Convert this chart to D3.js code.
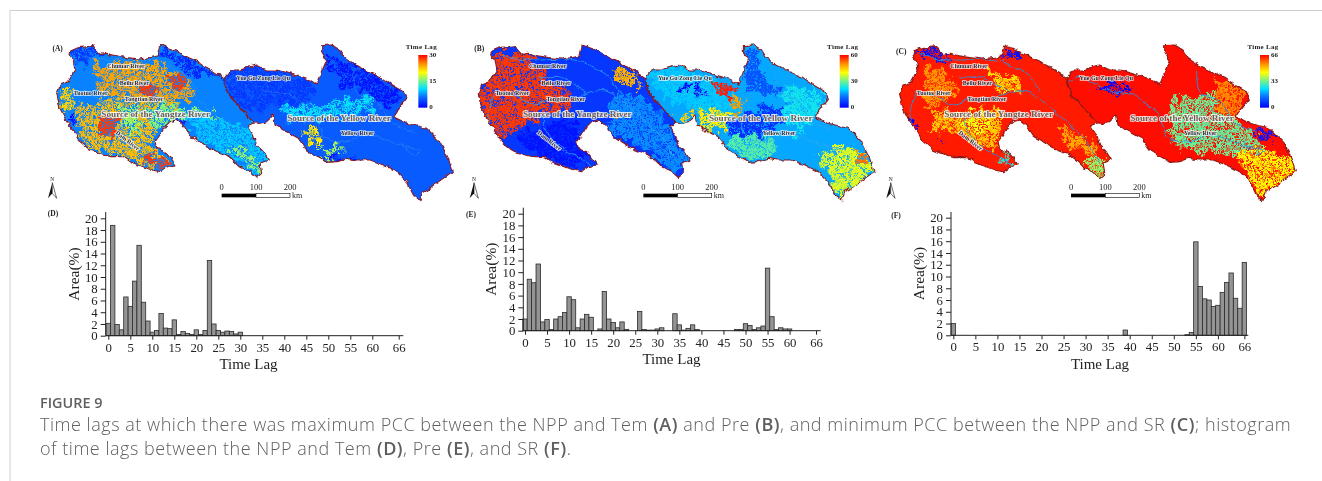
<!DOCTYPE html>
<html><head><meta charset="utf-8">
<script src="https://cdn.jsdelivr.net/npm/d3@7/dist/d3.min.js"></script>
<style>
html,body{margin:0;padding:0;background:#fff;overflow:hidden}
svg{display:block}
.ax text{font-family:"Liberation Serif",serif;fill:#222}
.ax path,.ax line{stroke:#222;stroke-width:1;fill:none}
</style></head><body>
<svg id="c" width="1322" height="481"></svg>
<script>
// ---------- histogram data: area (%) per time lag ----------
const lagsD = d3.range(0,31);
const areaD = [2.1,18.8,1.9,1.0,6.6,5.0,9.3,15.4,5.7,2.5,0.6,0.9,3.8,1.3,1.2,2.7,0.2,0.7,0.4,0.2,1.0,0.2,0.9,12.8,2.0,0.9,0.6,0.8,0.7,0.3,0.6];
const lagsE = [0,1,2,3,4,5,6,7,8,9,10,11,12,13,14,15,17,18,19,20,21,22,23,26,27,28,29,30,31,34,35,36,37,38,39,48,49,50,51,52,53,54,55,56,57,58,59,60];
const areaE = [2.0,8.8,8.2,11.4,1.5,1.9,0.2,2.0,2.4,3.1,5.8,5.3,0.5,2.0,2.8,2.3,0.3,6.7,2.0,1.4,0.5,1.5,0.2,3.3,0.2,0.1,0.1,0.3,0.5,2.9,1.0,0.1,0.4,1.0,0.2,0.2,0.2,1.2,0.9,0.2,0.5,0.8,10.7,2.4,0.2,0.5,0.3,0.3];
const lagsF = [0,39,53,54,55,56,57,58,59,60,61,62,63,64,65,66];
const areaF = [2.0,0.9,0.1,0.5,15.9,8.3,6.2,6.0,4.9,5.1,7.3,9.0,10.6,6.3,4.6,12.4];
const xTickValues = [0,5,10,15,20,25,30,35,40,45,50,55,60,66];
const yTickValues = [0,2,4,6,8,10,12,14,16,18,20];

// ---------- map geometry (map units) ----------
const yangtzeOutline = [[92,48],[105,42],[118,38],[140,35],[162,32],[168,45],[180,58],[200,55],[225,62],[260,68],[300,72],[330,68],[355,62],[362,30],[375,35],[395,42],[415,52],[430,60],[450,70],[470,78],[490,92],[515,105],[535,118],[552,128],[555,150],[565,180],[590,205],[620,240],[642,264],[622,272],[640,300],[650,330],[670,350],[685,375],[660,385],[665,415],[650,428],[630,410],[600,395],[580,375],[560,360],[520,345],[480,320],[450,300],[430,270],[410,255],[390,260],[375,275],[360,300],[345,320],[350,340],[375,350],[395,375],[405,390],[380,395],[360,410],[335,405],[310,395],[270,380],[250,365],[215,365],[190,360],[150,345],[120,320],[100,285],[80,260],[60,220],[50,175],[60,150],[85,140],[105,105],[100,75],[90,60]];
const yellowOutline = [[552,128],[570,105],[600,105],[630,95],[650,90],[680,105],[710,105],[745,115],[780,125],[810,135],[830,150],[845,110],[860,75],[845,50],[845,32],[875,30],[900,45],[915,70],[945,90],[985,110],[1020,125],[1055,150],[1090,170],[1100,190],[1070,230],[1060,245],[1100,265],[1160,280],[1200,320],[1225,370],[1237,410],[1210,430],[1175,455],[1150,470],[1140,497],[1120,480],[1100,440],[1070,410],[1030,390],[990,375],[950,375],[920,370],[890,380],[860,382],[830,365],[800,345],[775,310],[730,285],[705,270],[700,240],[680,260],[660,265],[642,264],[620,240],[590,205],[565,180],[555,150]];
const riverLines = [
 [[101,170],[161,185],[221,210],[251,195],[331,190],[391,170],[441,170],[491,210],[551,260],[611,320],[641,370],[651,385]],
 [[231,130],[291,125],[341,150],[376,170]],
 [[111,55],[151,70],[201,75],[341,75],[381,90],[441,125],[471,170]],
 [[246,230],[249,280],[301,340],[341,360],[401,400]],
 [[101,170],[81,230],[86,265]],
 [[556,140],[591,125],[641,150],[691,170],[751,180],[791,210],[826,235],[841,280],[856,310],[921,320],[981,300],[1051,320],[1111,340],[1146,345],[1121,360],[1081,320]],
 [[941,110],[951,170],[1011,200],[1051,260],[1121,290]]
];
const smallNames = ["Chumar River","Beilu River","Tuotuo River","Tongtian River","Dam River","Yue Gu Zong Lie Qu","Yellow River"];
const smallPos = [[258,93,0],[283,144,0],[152,174,0],[312,191,0],[263,317,38],[670,128,0],[952,293,0]];
const bigNames = ["Source of the Yangtze River","Source of the Yellow River"];
const bigPos = [[347,238],[897,250]];

// lag-patches per panel: each has a polygon and a lag value
const patchesA = [
 {v:24,p:[[170,90],[300,75],[380,95],[445,130],[480,185],[400,200],[330,190],[240,190],[170,160]]},
 {v:28,p:[[290,150],[345,145],[355,185],[300,190]]},
 {v:28,p:[[380,120],[435,120],[445,155],[400,155]]},
 {v:23,p:[[100,225],[180,190],[330,190],[420,210],[405,250],[350,280],[340,340],[385,380],[330,400],[260,375],[190,355],[125,320]]},
 {v:28,p:[[165,245],[225,245],[235,295],[180,305]]},
 {v:28,p:[[290,350],[350,360],[385,385],[340,400]]},
 {v:22,p:[[55,160],[105,165],[95,230],[70,225]]},
 {v:16,p:[[330,210],[530,230],[515,258],[430,250],[370,285],[330,275]]},
 {v:17,p:[[240,205],[295,205],[305,300],[250,285]]},
 {v:2,p:[[360,28],[480,85],[565,130],[470,125],[375,70]]},
 {v:3,p:[[85,42],[168,28],[200,60],[110,85]]},
 {v:0,p:[[80,250],[105,250],[100,278]]},
 {v:10,p:[[440,235],[645,270],[690,375],[655,430],[580,375],[465,310]]},
 {v:16,p:[[560,325],[640,360],[665,415],[620,395]]},
 {v:1,p:[[395,253],[432,255],[440,288],[380,278]]},
 {v:3,p:[[552,128],[650,88],[810,133],[832,190],[620,230],[575,180]]},
 {v:1,p:[[855,55],[1000,118],[1100,180],[1040,228],[980,170],[900,150]]},
 {v:11,p:[[720,215],[1000,185],[1005,232],[850,255],[740,262]]},
 {v:21,p:[[790,285],[832,278],[842,322],[800,322]]},
 {v:17,p:[[830,328],[905,338],[902,370],[850,375]]},
 {v:1,p:[[850,365],[950,375],[890,392]]}
];
const patchesB = [
 {v:56,p:[[95,52],[212,58],[252,130],[345,190],[312,232],[232,242],[170,282],[110,302],[82,270],[45,170],[95,125]]},
 {v:47,p:[[445,108],[502,98],[545,155],[480,150]]},
 {v:15,p:[[455,178],[552,188],[632,290],[685,382],[632,412],[570,352],[435,292]]},
 {v:52,p:[[435,238],[482,238],[470,262]]},
 {v:2,p:[[160,300],[330,250],[385,350],[352,402],[230,372]]},
 {v:20,p:[[552,118],[650,92],[752,128],[828,180],[812,242],[700,222],[608,192]]},
 {v:0,p:[[655,148],[690,150],[685,170],[660,165]]},
 {v:0,p:[[705,145],[725,150],[725,175],[705,175]]},
 {v:58,p:[[752,142],[812,148],[822,188],[770,178]]},
 {v:48,p:[[808,188],[842,188],[842,232],[815,238]]},
 {v:42,p:[[708,222],[812,238],[792,292],[718,282]]},
 {v:44,p:[[648,238],[692,228],[682,262],[658,267]]},
 {v:5,p:[[798,270],[912,208],[978,213],[972,262],[912,292],[882,352],[808,312]]},
 {v:28,p:[[798,308],[892,298],[952,340],[932,362],[860,385],[818,352]]},
 {v:9,p:[[845,30],[892,48],[892,100],[962,182],[860,172],[848,120]]},
 {v:23,p:[[968,148],[1095,178],[1072,242],[1012,302],[968,252]]},
 {v:38,p:[[1068,358],[1152,328],[1225,368],[1238,412],[1140,500],[1098,422]]},
 {v:52,p:[[1168,338],[1218,368],[1192,392]]}
];
const patchesC = [
 {v:54,p:[[118,98],[183,98],[223,172],[173,212],[128,232]]},
 {v:47,p:[[318,98],[393,128],[415,172],[338,172]]},
 {v:49,p:[[158,228],[363,218],[353,282],[338,342],[290,342],[220,292],[138,292]]},
 {v:43,p:[[229,228],[323,233],[302,302],[248,282]]},
 {v:52,p:[[518,268],[612,318],[642,352],[568,342]]},
 {v:36,p:[[609,358],[685,378],[663,432],[609,412]]},
 {v:28,p:[[359,348],[405,397],[349,382]]},
 {v:2,p:[[98,46],[163,36],[203,77],[119,67]]},
 {v:2,p:[[359,30],[393,43],[423,77],[364,77]]},
 {v:0,p:[[79,248],[103,253],[101,277],[79,272]]},
 {v:0,p:[[164,313],[188,313],[182,327]]},
 {v:33,p:[[859,188],[993,178],[1053,258],[1123,298],[1163,382],[1049,362],[949,352],[859,322]]},
 {v:32,p:[[880,210],[990,200],[1040,270],[1110,320],[1040,345],[950,335],[880,310]]},
 {v:45,p:[[1049,348],[1163,348],[1240,368],[1240,412],[1141,498],[1089,422]]},
 {v:2,p:[[1109,283],[1193,283],[1213,317],[1129,312]]},
 {v:55,p:[[999,118],[1093,168],[1053,252],[999,222]]},
 {v:0,p:[[654,146],[698,148],[693,174],[654,167]]},
 {v:0,p:[[699,148],[738,143],[738,177],[697,180]]}
];
const baseA = [7,5], baseB = [6,17], baseC = [64,65];
const lagMaxA = 30, lagMaxB = 60, lagMaxC = 66;

// ---------- layout ----------
const svg = d3.select("#c");
const defs = svg.append("defs");
const serif = '"Liberation Serif",serif';

const colorStops = [0,.22,.36,.5,.67,.83,1];
const colorVals = ["#0000ff","#0a78ff","#00e0ff","#70f090","#ffff00","#ff9000","#ff0000"];
const frac = d3.scaleLinear().domain(colorStops).range(colorVals).interpolate(d3.interpolateRgb).clamp(true);

const grad = defs.append("linearGradient").attr("id","lagGrad").attr("x1",0).attr("x2",0).attr("y1",1).attr("y2",0);
colorStops.forEach((s,i)=>grad.append("stop").attr("offset",s).attr("stop-color",colorVals[i]));

function fullFilter(id){
  return defs.append("filter").attr("id",id).attr("filterUnits","userSpaceOnUse")
    .attr("x",0).attr("y",0).attr("width",1322).attr("height",481).attr("color-interpolation-filters","sRGB");
}
// patches dissolve softly into speckles and get rough edges
function dissolve(id,seed,thresh){
  const f = fullFilter(id), k = 5;
  f.append("feTurbulence").attr("type","fractalNoise").attr("baseFrequency",.42).attr("numOctaves",2).attr("seed",seed).attr("result","fine");
  f.append("feColorMatrix").attr("in","fine").attr("type","matrix").attr("values",
    `0 0 0 0 0 0 0 0 0 0 0 0 0 0 0 ${k} 0 0 0 ${-k*thresh}`).attr("result","mask");
  f.append("feComposite").attr("in","SourceGraphic").attr("in2","mask").attr("operator","in").attr("result","s");
  f.append("feTurbulence").attr("type","fractalNoise").attr("baseFrequency",.12).attr("numOctaves",3).attr("seed",seed+4).attr("result","coarse");
  f.append("feDisplacementMap").attr("in","s").attr("in2","coarse").attr("scale",20).attr("xChannelSelector","R").attr("yChannelSelector","G");
  f.append("feGaussianBlur").attr("stdDeviation",.55);
}
dissolve("rA",3,.34);dissolve("rB",8,.3);dissolve("rC",13,.33);
// jagged outline of whole basin
const jag = fullFilter("jag");
jag.append("feTurbulence").attr("type","fractalNoise").attr("baseFrequency",.16).attr("numOctaves",2).attr("seed",2).attr("result","n");
jag.append("feDisplacementMap").attr("in","SourceGraphic").attr("in2","n").attr("scale",5).attr("xChannelSelector","R").attr("yChannelSelector","G");
jag.append("feGaussianBlur").attr("stdDeviation",.25);
const soft = fullFilter("soft");
soft.append("feGaussianBlur").attr("stdDeviation",.38);
const softT = fullFilter("softT");
softT.append("feGaussianBlur").attr("stdDeviation",.3);

function drawMap(cfg){
  const x = d3.scaleLinear().domain([0,1260]).range([cfg.ox,cfg.ox+420]);
  const y = d3.scaleLinear().domain([0,510]).range([cfg.oy,cfg.oy+170]);
  const line = d3.line().x(d=>x(d[0])).y(d=>y(d[1]));
  const lineC = d3.line().x(d=>x(d[0])).y(d=>y(d[1])).curve(d3.curveCatmullRom);
  const color = v=>frac(v/cfg.max);
  const g = svg.append("g");
  const land = g.append("g").attr("filter","url(#jag)");
  [yangtzeOutline,yellowOutline].forEach((o,i)=>{
    const cid = `clip${cfg.name}${i}`;
    defs.append("clipPath").attr("id",cid).append("path").attr("d",line(o)+"Z");
    const cg = land.append("g").attr("clip-path",`url(#${cid})`);
    cg.append("rect").attr("x",x(0)).attr("y",y(0)).attr("width",420).attr("height",170).attr("fill",color(cfg.base[i]));
    const inner = cg.append("g").attr("filter",`url(#r${cfg.name})`);
    inner.selectAll("path").data(cfg.patches).join("path").attr("d",d=>line(d.p)+"Z").attr("fill",d=>color(d.v));
    cg.selectAll("path.r").data(riverLines).join("path").attr("class","r").attr("d",lineC)
      .attr("fill","none").attr("stroke",cfg.river).attr("stroke-width",.9).attr("opacity",cfg.rOp);
  });
  [yangtzeOutline,yellowOutline].forEach(o=>{
    land.append("path").attr("d",line(o)+"Z").attr("fill","none").attr("stroke",cfg.edge).attr("stroke-width",1.1).attr("stroke-linejoin","round");
  });
  const labels = g.append("g").attr("filter","url(#softT)");
  labels.selectAll("text.s").data(smallNames).join("text").attr("class","s")
    .attr("transform",(d,i)=>`translate(${x(smallPos[i][0])},${y(smallPos[i][1])}) rotate(${smallPos[i][2]})`)
    .attr("text-anchor","middle").attr("dy","0.33em")
    .attr("font-family",serif).attr("font-weight","bold").attr("font-size",6)
    .attr("fill","#2a2a35").attr("stroke","#fff").attr("stroke-width",1.6).attr("paint-order","stroke").attr("stroke-opacity",.8)
    .text(d=>d);
  labels.selectAll("text.b").data(bigNames).join("text").attr("class","b")
    .attr("x",(d,i)=>x(bigPos[i][0])).attr("y",(d,i)=>y(bigPos[i][1])).attr("dy","0.33em")
    .attr("text-anchor","middle")
    .attr("font-family",serif).attr("font-weight","bold").attr("font-size",9.2)
    .attr("fill","#6b5f58").attr("stroke","#fff").attr("stroke-width",1.8).attr("paint-order","stroke").attr("stroke-opacity",.8)
    .text(d=>d);
  g.append("text").attr("x",x(cfg.letterX)).attr("y",y(cfg.letterY)).attr("dy","0.33em").attr("text-anchor","middle")
    .attr("font-family",serif).attr("font-weight","bold").attr("font-size",7.5).attr("fill","#222").text(cfg.label);
  // colour bar
  const lx = x(cfg.legX), lw = 9;
  g.append("text").attr("x",lx+3).attr("y",y(36)).attr("dy","0.33em").attr("text-anchor","middle")
    .attr("font-family",serif).attr("font-weight","bold").attr("font-size",7).attr("letter-spacing",.3).attr("fill","#222").text("Time Lag");
  g.append("rect").attr("x",lx).attr("y",y(60)).attr("width",lw).attr("height",y(218)-y(60)).attr("fill","url(#lagGrad)");
  const lagY = d3.scaleLinear().domain([0,cfg.max]).range([y(215),y(60)]);
  [cfg.max,cfg.max/2,0].forEach(v=>{
    g.append("text").attr("x",lx+lw+2).attr("y",lagY(v)).attr("dy","0.33em")
      .attr("font-family",serif).attr("font-weight","bold").attr("font-size",7).attr("fill","#222").text(v);
  });
  // scale bar
  const sb = d3.scaleLinear().domain([0,100,200]).range([x(cfg.sbX),x(cfg.sbX+103),x(cfg.sbX+205)]);
  g.append("rect").attr("x",sb(0)).attr("y",y(476)).attr("width",sb(100)-sb(0)).attr("height",y(487)-y(476)).attr("fill","#000");
  g.append("rect").attr("x",sb(100)).attr("y",y(476)).attr("width",sb(200)-sb(100)).attr("height",y(487)-y(476)).attr("fill","#fff").attr("stroke","#000").attr("stroke-width",.6);
  [0,100,200].forEach(v=>g.append("text").attr("x",sb(v)).attr("y",y(456)).attr("dy","0.33em").attr("text-anchor","middle")
     .attr("font-family",serif).attr("font-size",8.5).attr("fill","#222").text(v));
  g.append("text").attr("x",sb(200)+2).attr("y",y(481)).attr("dy","0.33em").attr("font-family",serif).attr("font-size",8).attr("fill","#222").text("km");
  // north arrow
  g.append("text").attr("x",x(cfg.naX)).attr("y",y(432)).attr("dy","0.33em").attr("text-anchor","middle").attr("font-family",serif).attr("font-size",5.5).attr("fill","#222").text("N");
  g.append("path").attr("d",line([[cfg.naX,443],[cfg.naX-13,490],[cfg.naX,475]])+"Z").attr("fill","#111");
  g.append("path").attr("d",line([[cfg.naX,443],[cfg.naX+13,490],[cfg.naX,475]])+"Z").attr("fill","#fff").attr("stroke","#111").attr("stroke-width",.6);
}
drawMap({name:"A",ox:40,oy:35,max:lagMaxA,base:baseA,patches:patchesA,label:"(A)",letterX:53,letterY:40,legX:1135,sbX:545,naX:37,river:"#3f96ea",rOp:.55,edge:"#8a1a22"});
drawMap({name:"B",ox:461.7,oy:35,max:lagMaxB,base:baseB,patches:patchesB,label:"(B)",letterX:53,letterY:40,legX:1134,sbX:545,naX:37,river:"#2fa8f0",rOp:.9,edge:"#8a1a22"});
drawMap({name:"C",ox:883,oy:35,max:lagMaxC,base:baseC,patches:patchesC,label:"(C)",letterX:55,letterY:50,legX:1131,sbX:564,naX:23,river:"#2d8fe0",rOp:1,edge:"#8a1a1a"});

function drawHist(cfg){
  const unit = cfg.unit;
  const x = d3.scaleLinear().domain([0,66]).range([cfg.x0,cfg.x0+66*unit]);
  const y = d3.scaleLinear().domain([0,20]).range([cfg.base,cfg.y20]);
  const g = svg.append("g").attr("filter","url(#soft)");
  g.selectAll("rect").data(cfg.lags).join("rect")
    .attr("x",d=>x(d)-unit/2).attr("width",unit)
    .attr("y",(d,i)=>y(cfg.area[i])).attr("height",(d,i)=>cfg.base-y(cfg.area[i]))
    .attr("fill","#949494").attr("stroke","#2b2b2b").attr("stroke-width",.8);
  const xa = g.append("g").attr("class","ax").attr("transform",`translate(0,${cfg.base})`)
    .call(d3.axisBottom(x).tickValues(xTickValues).tickSize(4).tickSizeOuter(0).tickPadding(3));
  xa.select(".domain").attr("d",`M${cfg.axisX},0H${cfg.axisEnd}`);
  xa.selectAll("text").attr("font-size",12.8);
  const ya = g.append("g").attr("class","ax").attr("transform",`translate(${cfg.axisX},0)`)
    .call(d3.axisLeft(y).tickValues(yTickValues).tickSize(5).tickSizeOuter(0).tickPadding(3));
  ya.select(".domain").attr("d",`M0,${cfg.axisTop}V${cfg.base}`);
  ya.selectAll("text").attr("font-size",12.8);
  g.append("text").attr("transform",`translate(${cfg.axisX-32},${(cfg.y20+cfg.base)/2-3}) rotate(-90)`)
    .attr("dy","0.33em").attr("text-anchor","middle").attr("font-family",serif).attr("font-size",15.5).attr("fill","#222").text("Area(%)");
  g.append("text").attr("x",cfg.tlx).attr("y",cfg.base+28.5).attr("dy","0.33em").attr("text-anchor","middle")
    .attr("font-family",serif).attr("font-size",15).attr("fill","#222").text("Time Lag");
  g.append("text").attr("x",cfg.lx).attr("y",cfg.ly).attr("dy","0.33em").attr("text-anchor","middle")
    .attr("font-family",serif).attr("font-weight","bold").attr("font-size",7.5).attr("fill","#222").text(cfg.label);
}
drawHist({lags:lagsD,area:areaD,x0:108.3,unit:4.4,base:335.7,y20:218.3,axisX:105.7,axisEnd:403.3,axisTop:212,label:"(D)",lx:53,ly:214,tlx:248.5});
drawHist({lags:lagsE,area:areaE,x0:525,unit:4.41,base:330.7,y20:213.7,axisX:523.3,axisEnd:820.7,axisTop:207.7,label:"(E)",lx:471,ly:215,tlx:671.5});
drawHist({lags:lagsF,area:areaF,x0:953.3,unit:4.41,base:335.3,y20:217.7,axisX:951,axisEnd:1248.3,axisTop:212,label:"(F)",lx:896,ly:216,tlx:1100});

// frame and caption
svg.append("path").attr("d","M1322,10.5H10V481").attr("fill","none").attr("stroke","#cfcfcf").attr("stroke-width",1);
const capFont='"Open Sans",sans-serif';
svg.append("text").attr("x",40).attr("y",407.5).attr("font-family",capFont).attr("font-weight",600).attr("font-size",14.4).attr("fill","#5f5f5f").text("FIGURE 9");
const capLines = [
 [["Time lags at which there was maximum PCC between the NPP and Tem ",0],["(A)",1],[" and Pre ",0],["(B)",1],[", and minimum PCC between the NPP and SR ",0],["(C)",1],["; histogram",0]],
 [["of time lags between the NPP and Tem ",0],["(D)",1],[", Pre ",0],["(E)",1],[", and SR ",0],["(F)",1],[".",0]]
];
capLines.forEach((ln,i)=>{
  const t = svg.append("text").attr("x",40).attr("y",431+i*24).attr("font-family",capFont).attr("font-size",18).attr("letter-spacing",.53).attr("fill","#5f5f5f").attr("font-weight",300);
  ln.forEach(s=>t.append("tspan").attr("font-weight",s[1]?600:300).text(s[0]));
});
</script>
</body></html>
